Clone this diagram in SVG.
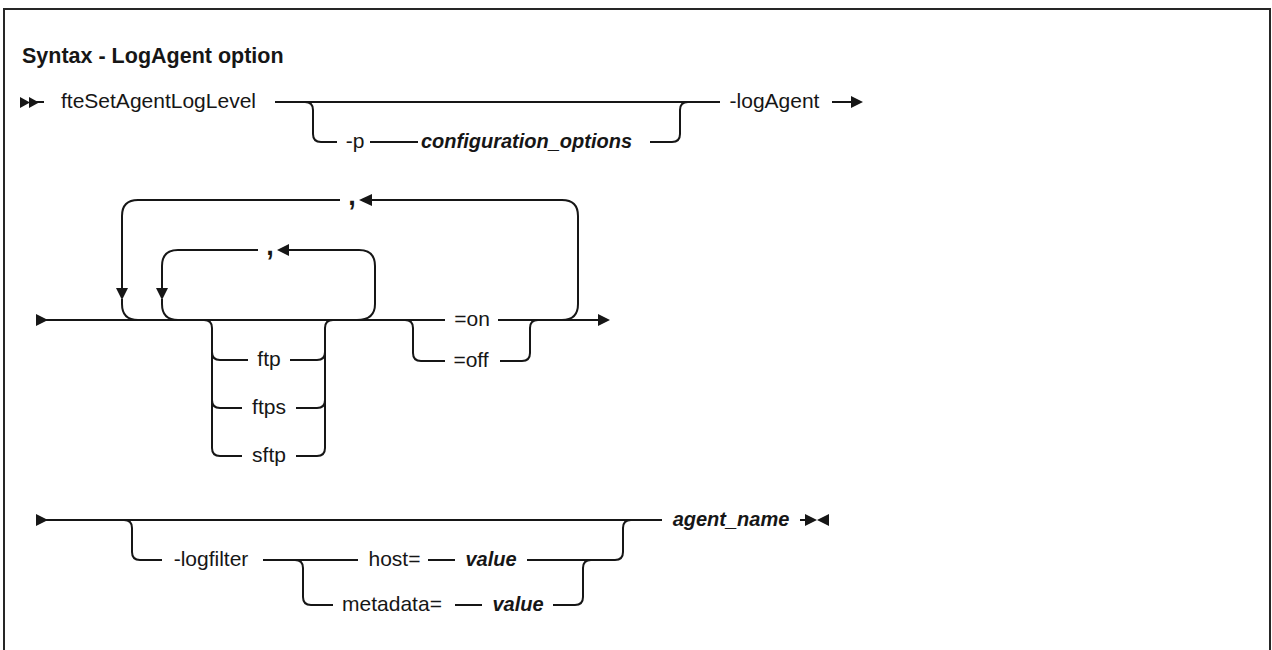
<svg xmlns="http://www.w3.org/2000/svg" width="1272" height="650" viewBox="0 0 1272 650">
<style>
.ln{fill:none;stroke:#161616;stroke-width:2;stroke-linecap:butt}
.ah{fill:#161616;stroke:none}
.t{font-family:"Liberation Sans",Arial,sans-serif;font-size:21px;fill:#161616}
.m{text-anchor:middle}
.c{font-family:"Liberation Sans",Arial,sans-serif;font-size:27px;font-weight:bold;fill:#161616;text-anchor:middle}
.v{font-family:"Liberation Sans",Arial,sans-serif;font-size:20px;font-style:italic;font-weight:bold;fill:#161616;text-anchor:middle}
.title{font-family:"Liberation Sans",Arial,sans-serif;font-size:21.5px;font-weight:bold;fill:#161616}
</style>
<rect x="4" y="9" width="1266" height="660" fill="#ffffff" stroke="#262626" stroke-width="2"/>
<text id="title" class="title" x="22" y="63">Syntax - LogAgent option</text>

<g id="row1">
  <g id="start1">
    <polygon class="ah" points="20,97 20,108 30,102.5"/>
    <polygon class="ah" points="29,97 29,108 39,102.5"/>
  </g>
  <g id="cmd"><text class="t m" x="158.5" y="108">fteSetAgentLogLevel</text></g>
  <g id="opt-p"><text class="t m" x="355" y="148">-p</text></g>
  <g id="config"><text class="v" x="526.5" y="148">configuration_options</text></g>
  <g id="logAgent"><text class="t m" x="774.5" y="108">-logAgent</text></g>
</g>

<g id="row2">
  <g id="start2"><polygon class="ah" points="36,314 36,326 48,320"/></g>
  <g id="comma-outer"><text class="c" x="352" y="205">,</text></g>
  <g id="comma-inner"><text class="c" x="270" y="255">,</text></g>
  <g id="ftp"><text class="t m" x="269" y="366">ftp</text></g>
  <g id="ftps"><text class="t m" x="269" y="414">ftps</text></g>
  <g id="sftp"><text class="t m" x="269" y="462">sftp</text></g>
  <g id="on"><text class="t m" x="472" y="326">=on</text></g>
  <g id="off"><text class="t m" x="471" y="367">=off</text></g>
</g>

<g id="row3">
  <g id="start3"><polygon class="ah" points="36,514 36,526 48,520"/></g>
  <g id="logfilter"><text class="t m" x="211" y="566">-logfilter</text></g>
  <g id="host"><text class="t m" x="394.5" y="566">host=</text></g>
  <g id="value1"><text class="v" x="491" y="566">value</text></g>
  <g id="metadata"><text class="t m" x="392" y="611">metadata=</text></g>
  <g id="value2"><text class="v" x="518" y="611">value</text></g>
  <g id="agent_name"><text class="v" x="731" y="526">agent_name</text></g>
  <g id="end3">
    <polygon class="ah" points="805,514 805,526 817,520"/>
    <polygon class="ah" points="829,514 829,526 817,520"/>
  </g>
</g>

<g id="connectors">
  <!-- row 1 -->
  <path class="ln" d="M30,102 H44"/>
  <path class="ln" d="M275,102 H720"/>
  <path class="ln" d="M305,102 Q313,102 313,110 V134 Q313,142 321,142 H337"/>
  <path class="ln" d="M370,142 H418"/>
  <path class="ln" d="M650,142 H672 Q680,142 680,134 V110 Q680,102 688,102"/>
  <path class="ln" d="M832,102 H852"/>
  <polygon class="ah" points="851,96 863,102 851,108"/>

  <!-- row 2 main line -->
  <path class="ln" d="M46,320 H445"/>
  <path class="ln" d="M498,320 H600"/>
  <polygon class="ah" points="598,314 610,320 598,326"/>

  <!-- outer loop -->
  <path class="ln" d="M562,320 Q578,320 578,304 V216 Q578,200 562,200 H371"/>
  <polygon class="ah" points="372,194 359,200 372,206"/>
  <path class="ln" d="M340,200 H138 Q122,200 122,216 V290"/>
  <polygon class="ah" points="116,288 122,300 128,288"/>
  <path class="ln" d="M122,299 V304 Q122,320 138,320"/>

  <!-- inner loop -->
  <path class="ln" d="M357,320 Q375,320 375,304 V266 Q375,250 359,250 H288"/>
  <polygon class="ah" points="289,244 277,250 289,256"/>
  <path class="ln" d="M258,250 H178 Q162,250 162,266 V290"/>
  <polygon class="ah" points="156,288 162,300 168,288"/>
  <path class="ln" d="M162,299 V304 Q162,320 178,320"/>

  <!-- ftp / ftps / sftp -->
  <path class="ln" d="M204,320 Q212,320 212,328 V448 Q212,456 220,456 H242"/>
  <path class="ln" d="M212,352 Q212,360 220,360 H248"/>
  <path class="ln" d="M212,400 Q212,408 220,408 H242"/>
  <path class="ln" d="M290,360 H317 Q325,360 325,352"/>
  <path class="ln" d="M296,408 H317 Q325,408 325,400"/>
  <path class="ln" d="M296,456 H317 Q325,456 325,448 V328 Q325,320 333,320"/>

  <!-- =on / =off -->
  <path class="ln" d="M405,320 Q413,320 413,328 V353 Q413,361 421,361 H445"/>
  <path class="ln" d="M500,361 H522 Q530,361 530,353 V328 Q530,320 538,320"/>

  <!-- row 3 -->
  <path class="ln" d="M46,520 H662"/>
  <path class="ln" d="M124,520 Q132,520 132,528 V552 Q132,560 140,560 H162"/>
  <path class="ln" d="M263,560 H358"/>
  <path class="ln" d="M295,560 Q303,560 303,568 V597 Q303,605 311,605 H333"/>
  <path class="ln" d="M428,560 H455"/>
  <path class="ln" d="M527,560 H615 Q623,560 623,552 V528 Q623,520 631,520"/>
  <path class="ln" d="M455,605 H482"/>
  <path class="ln" d="M553,605 H575 Q583,605 583,597 V568 Q583,560 591,560"/>
  <path class="ln" d="M800,520 H806"/>
</g>
</svg>
